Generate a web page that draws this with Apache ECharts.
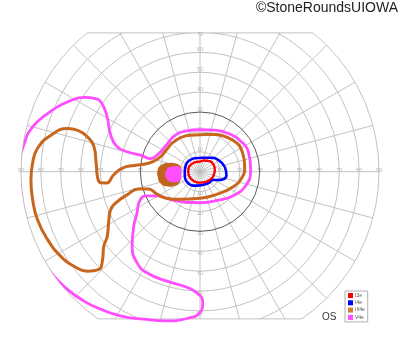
<!DOCTYPE html>
<html>
<head>
<meta charset="utf-8">
<script src="https://cdn.jsdelivr.net/npm/echarts@6/dist/echarts.min.js"></script>
<style>
html,body{margin:0;padding:0;background:#fff;}
#chart{width:400px;height:352px;}
</style>
</head>
<body>
<div id="chart"></div>
<script>
// ---- grid / ticks ----
const ringValues = [10, 20, 30, 40, 50, 60, 70, 80, 90];
const darkRing = 30;
const spokeAngles = [0, 15, 30, 45, 60, 75, 90, 105, 120, 135, 150, 165, 180, 195, 210, 225, 240, 255, 270, 285, 300, 315, 330, 345];
const tickLabels = ['10', '20', '30', '40', '50', '60', '70', '80', '90'];
const fieldTopLimit = 69.8;     // degrees where the chart is cut at the top
const fieldBottomLimit = 74;    // degrees where the chart is cut at the bottom

// ---- isopters: [eccentricity (deg), meridian angle (deg)] ----
const isoI2e = [[7.5,5],[7.7,25],[7.2,48],[6.0,70],[5.1,90],[5.3,115],[5.7,140],[6.0,165],[5.9,185],[5.8,215],[5.6,245],[5.5,270],[5.9,300],[6.4,320],[7.0,340]];
const isoI4e = [[12.7,11],[10.9,33],[8.6,55],[7.3,75],[6.9,90],[7.2,110],[7.7,130],[7.9,155],[7.7,185],[8.3,220],[7.2,257],[7.1,305],[7.8,328],[9.9,335],[12.3,342],[13.4,353]];
const isoIII4e = [[19.9,71],[18.6,90],[19.3,110],[20.0,132],[20.2,147.5],[22.0,162.6],[26.8,171.2],[33.1,174.6],[39.0,177.3],[43.5,182.2],[47.3,186.9],[50.3,186.4],[51.6,182.9],[52.4,175.2],[54.7,166.8],[59.1,162.9],[64.9,161.3],[70.1,162.0],[77.2,166.3],[82.5,171.8],[84.3,177.1],[85.1,182.8],[85.3,189.5],[85.2,196.5],[83.9,204.0],[81.9,211.3],[79.2,216.9],[75.6,221.4],[70.7,224.0],[66.6,222.5],[61.2,217.8],[56.9,214.9],[51.8,207.8],[48.9,203.1],[45.3,200.4],[38.5,197.6],[32.2,195.6],[27.4,198.4],[24.3,207.9],[21.3,219.1],[17.1,234.3],[13.4,270],[14.3,309],[18.2,335.1],[21.2,351.5],[22.6,6.0],[23.4,23.5],[22.9,43.8]];
const isoV4e = [[22.2,70.2],[21.1,90],[21.7,110.2],[22.1,126.1],[21.6,141.9],[22.8,157.1],[25.9,165.2],[31.1,164.4],[38.4,164.7],[43.9,163.0],[48.8,157.3],[54.1,149.6],[59.6,145.4],[64.1,145.0],[69.3,147.4],[75.3,152.3],[82.0,159.1],[87.1,165.0],[89.5,170.9],[90.9,178.4],[90.7,184.7],[90.8,193.2],[91.2,199.7],[91.3,206.6],[90.6,214.1],[89.1,221.6],[87.4,228.1],[85.3,234.1],[82.8,241.1],[79.4,249.1],[76.8,257.5],[74.1,264.9],[70.8,270],[65.8,271.2],[60.8,268.4],[58.1,261.7],[57.5,253.2],[57.4,242.3],[55.7,235.4],[50.7,227.7],[43.2,219.5],[37.9,213.3],[34.1,206.4],[29.6,204.2],[24.7,209.5],[20.4,222.8],[17.1,244.0],[15.6,270],[17.3,305.2],[20.5,323.6],[23.8,341.2],[25.5,1.9],[26.2,20.9],[25.5,38.4],[23.9,54.1]];

// ---- blind spot ----
const blindSpotIII4e = [[10.4,164.1],[12.7,161.1],[16.6,164.8],[19.8,170.3],[21.3,177.7],[21.4,187.1],[20.8,195.8],[18.5,203.5],[14.8,208.8],[11.9,208.3],[9.9,195.6],[9.5,174.9]];
const blindSpotV4e = [[10.2,168.1],[14.2,169.5],[16.6,175.3],[17.5,183.8],[17.1,192.3],[14.9,200.2],[11.5,203.9],[9.6,189.9]];

const seriesNames = ['I2e', 'I4e', 'III4e', 'V4e'];
const seriesColors = ['#ff0000', '#0000ff', '#c8661e', '#ff4dff'];
const legendColors = ['#ff0000', '#0000ff', '#d4823a', '#ff4dff'];

function closeLoop(arr) { return arr.concat([arr[0]]); }

const chart = echarts.init(document.getElementById('chart'), null, {renderer: 'canvas'});

function gridRender(params, api) {
  const c = api.coord([0, 0]);
  const rad = v => { const p = api.coord([v, 0]); return p[0] - c[0]; };
  const topY = api.coord([fieldTopLimit, 90])[1];
  const botY = api.coord([fieldBottomLimit, 270])[1];
  const outer = ringValues[ringValues.length - 1];
  const Rmax = rad(outer);
  const inner = [];
  ringValues.forEach(v => {
    inner.push({type: 'circle', shape: {cx: c[0], cy: c[1], r: rad(v)},
      style: {fill: 'none', stroke: v === darkRing ? '#5a5a5a' : '#c2c2c2', lineWidth: 1}, z2: v === darkRing ? 3 : 1});
  });
  spokeAngles.forEach(a => {
    const p = api.coord([outer, a]);
    inner.push({type: 'line', shape: {x1: c[0], y1: c[1], x2: p[0], y2: p[1]},
      style: {stroke: '#c2c2c2', lineWidth: 1}, z2: 1});
  });
  const children = [{type: 'group', children: inner,
    clipPath: {type: 'rect', shape: {x: 0, y: topY, width: 2 * c[0] + 10, height: botY - topY}}}];
  const wt = Math.sqrt(Rmax * Rmax - (c[1] - topY) * (c[1] - topY));
  const wb = Math.sqrt(Rmax * Rmax - (botY - c[1]) * (botY - c[1]));
  children.push({type: 'line', shape: {x1: c[0] - wt, y1: topY, x2: c[0] + wt, y2: topY}, style: {stroke: '#c2c2c2', lineWidth: 1}});
  children.push({type: 'line', shape: {x1: c[0] - wb, y1: botY, x2: c[0] + wb, y2: botY}, style: {stroke: '#c2c2c2', lineWidth: 1}});
  const lblStyle = t => ({text: t, fill: '#a8a8a8', fontSize: 5, fontFamily: 'Liberation Sans', align: 'center', verticalAlign: 'middle'});
  ringValues.forEach((v, i) => {
    [0, 180].forEach(a => {
      const p = api.coord([v, a]);
      children.push({type: 'text', x: p[0], y: p[1] - 1.5, style: lblStyle(tickLabels[i])});
    });
    if (v <= fieldTopLimit + 0.5) {
      const p = api.coord([v, 90]);
      children.push({type: 'text', x: p[0], y: Math.max(p[1] - 2.5, topY + 2), style: lblStyle(tickLabels[i])});
    }
    if (v <= fieldBottomLimit) {
      const p = api.coord([v, 270]);
      children.push({type: 'text', x: p[0], y: Math.min(p[1] + 2.5, botY - 2), style: lblStyle(tickLabels[i])});
    }
  });
  return {type: 'group', children};
}

function blobRender(points, color) {
  return function (params, api) {
    const pts = points.map(p => api.coord(p));
    return {type: 'polygon', shape: {points: pts, smooth: 0.5}, style: {fill: color, stroke: null}};
  };
}

const isoData = [isoI2e, isoI4e, isoIII4e, isoV4e];
const isoWidths = [2.4, 2.6, 3, 2.8];
const lineSeries = seriesNames.map((n, i) => ({
  name: n, type: 'line', coordinateSystem: 'polar', data: closeLoop(isoData[i]),
  smooth: 0.5, symbol: 'none', showSymbol: false, clip: false, z: 10 - i + 5,
  lineStyle: {color: seriesColors[i], width: isoWidths[i]}, itemStyle: {color: seriesColors[i]}
}));

chart.setOption({
  animation: false,
  backgroundColor: '#fff',
  title: {text: '©StoneRoundsUIOWA', right: 2, top: 1, padding: 0,
    textStyle: {fontSize: 14, fontWeight: 'normal', color: '#222', fontFamily: 'Liberation Sans'}},
  polar: {center: [200, 171.7], radius: 179},
  angleAxis: {type: 'value', min: 0, max: 360, startAngle: 0, clockwise: false, show: false},
  radiusAxis: {type: 'value', min: 0, max: 90, show: false},
  legend: {
    orient: 'vertical', left: 345, top: 291, icon: 'rect', itemWidth: 5, itemHeight: 5, itemGap: 2.3,
    padding: [2, 3, 2, 3], borderColor: '#b0b0b0', borderWidth: 1, selectedMode: false,
    textStyle: {fontSize: 5, color: '#555', fontFamily: 'Liberation Sans', padding: [0, 0, 0, -3]},
    data: seriesNames.map((n, i) => ({name: n, itemStyle: {color: legendColors[i]}}))
  },
  graphic: [{type: 'text', left: 322, top: 312, style: {text: 'OS', fontSize: 10, fill: '#333', fontFamily: 'Liberation Sans'}}],
  series: [
    {type: 'custom', name: 'grid', coordinateSystem: 'polar', data: [[0, 0]], renderItem: gridRender, z: 1, silent: true},
    ...lineSeries,
    {type: 'custom', name: 'blindIII', coordinateSystem: 'polar', data: [[0, 0]], renderItem: blobRender(blindSpotIII4e, '#c0641e'), z: 20, silent: true},
    {type: 'custom', name: 'blindV', coordinateSystem: 'polar', data: [[0, 0]], renderItem: blobRender(blindSpotV4e, '#ff4dff'), z: 21, silent: true}
  ]
});
</script>
</body>
</html>
